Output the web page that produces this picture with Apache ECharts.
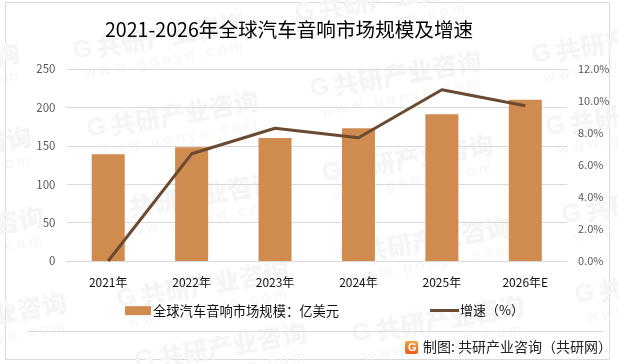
<!DOCTYPE html>
<html><head><meta charset="utf-8">
<style>html,body{margin:0;padding:0;background:#fff}#c{width:618px;height:364px}</style>
<script src="https://cdn.jsdelivr.net/npm/echarts@6/dist/echarts.min.js"></script>
</head><body><div id="c"></div>
<script>
const categories=['2021年','2022年','2023年','2024年','2025年','2026年E'];
const marketSize=[139,148,160,173,191,210];
const growth=[0,6.7,8.3,7.7,10.7,9.7];
const watermarks=[[73,52],[87,130],[-152,82],[-140,166],[-128,246],[105,212],[117,300],[-105,332],[135,362],[310,90],[295,14],[532,56],[322,174],[546,128],[339,256],[562,216],[352,335],[575,296]];
const FONT='"Noto Sans CJK SC","Liberation Sans",sans-serif';
const WM='#f5f5f5';
const wmGraphics=watermarks.map(p=>({type:'group',x:p[0],y:p[1],rotation:10*Math.PI/180,silent:true,z:-9,children:[
 {type:'text',style:{x:0,y:0,text:'G',font:'900 25px "Liberation Sans"',fill:WM,verticalAlign:'middle'}},
 {type:'text',style:{x:24,y:0,text:'共研产业咨询',font:'900 25px '+FONT,fill:WM,verticalAlign:'middle'}},
 {type:'text',style:{x:8,y:24,text:'w w w . g o n y n . c o m',font:'15px "Liberation Sans"',fill:WM,verticalAlign:'middle'}}
]}));
const chart=echarts.init(document.getElementById('c'),null,{renderer:'canvas'});
chart.setOption({
 animation:false,backgroundColor:'#fff',textStyle:{fontFamily:FONT},
 title:{text:'2021-2026年全球汽车音响市场规模及增速',left:105,top:20,padding:0,textStyle:{fontSize:19.6,fontWeight:'normal',color:'#000',fontFamily:FONT}},
 grid:{left:66.5,right:51,top:69,bottom:103},
 legend:[
  {data:['全球汽车音响市场规模：亿美元'],left:125,top:304,padding:0,itemWidth:26,itemHeight:9,icon:'rect',itemGap:2,textStyle:{fontSize:13.3,color:'#111',padding:[0,0,0,-3]}},
  {data:['增速（%）'],left:430,top:304,padding:0,itemWidth:29,itemHeight:3,icon:'rect',textStyle:{fontSize:13,color:'#111',padding:[0,0,0,-4]}}
 ],
 xAxis:{type:'category',data:categories,axisTick:{show:false},axisLine:{lineStyle:{color:'#d9d9d9',width:1}},axisLabel:{fontSize:12,color:'#111',margin:15}},
 yAxis:[
  {type:'value',min:0,max:250,interval:50,axisLine:{show:false},axisTick:{show:false},splitLine:{lineStyle:{color:'#d9d9d9',width:1}},axisLabel:{fontSize:11.5,color:'#595959',margin:11}},
  {type:'value',min:0,max:12,interval:2,axisLine:{show:false},axisTick:{show:false},splitLine:{show:false},axisLabel:{fontSize:11,color:'#595959',margin:11,formatter:v=>v.toFixed(1)+'%'}}
 ],
 series:[
  {name:'全球汽车音响市场规模：亿美元',type:'bar',data:marketSize,barWidth:33,itemStyle:{color:'#d08b4e'}},
  {name:'增速（%）',type:'line',yAxisIndex:1,data:growth,symbol:'none',lineStyle:{color:'#6a4a30',width:3},itemStyle:{color:'#6a4a30'}}
 ],
 graphic:[
  {type:'rect',z:-10,silent:true,shape:{x:5.5,y:2.5,width:604,height:357},style:{fill:'#fff',stroke:'#d9d9d9',lineWidth:1}},
  ...wmGraphics,
  {type:'line',silent:true,shape:{x1:28,y1:331.5,x2:603,y2:331.5},style:{stroke:'#d9d9d9',lineWidth:1}},
  {type:'rect',silent:true,shape:{x:405,y:341,width:13,height:13,r:2},style:{fill:new echarts.graphic.LinearGradient(0,0,0,1,[{offset:0,color:'#f9a03a'},{offset:1,color:'#ee5a20'}])}},
  {type:'text',silent:true,style:{x:408,y:342,text:'G',font:'bold 11px "Liberation Sans"',fill:'#fff'}},
  {type:'text',silent:true,style:{x:423,y:340,text:'制图: 共研产业咨询（共研网）',font:'14px '+FONT,fill:'#222'}}
 ]
});
</script></body></html>
